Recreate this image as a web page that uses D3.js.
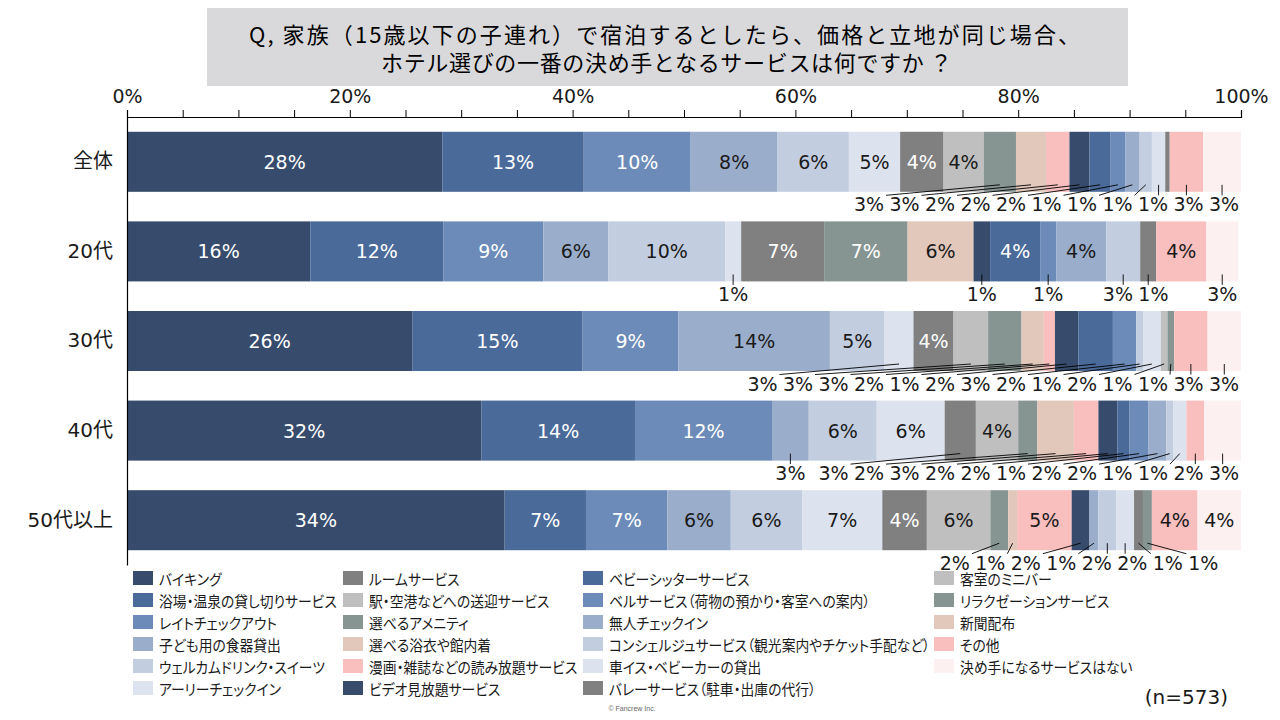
<!DOCTYPE html>
<html><head><meta charset="utf-8">
<script src="https://cdn.jsdelivr.net/npm/d3@7"></script>
<style>
body{margin:0;background:#fff;}
svg{display:block;}
.jp{font-family:"Noto Sans CJK JP","DejaVu Sans",sans-serif;font-feature-settings:"palt";}
.jpt{font-family:"Noto Sans CJK JP","DejaVu Sans",sans-serif;}
.num{font-family:"DejaVu Sans","Noto Sans CJK JP",sans-serif;}
</style></head><body>
<svg id="chart" width="1280" height="720"></svg>
<script>
// ---------- data ----------
const categories = ["全体", "20代", "30代", "40代", "50代以上"];
const services = [
  "バイキング", "浴場・温泉の貸し切りサービス", "レイトチェックアウト", "子ども用の食器貸出",
  "ウェルカムドリンク・スイーツ", "アーリーチェックイン", "ルームサービス", "駅・空港などへの送迎サービス",
  "選べるアメニティ", "選べる浴衣や館内着", "漫画・雑誌などの読み放題サービス", "ビデオ見放題サービス",
  "ベビーシッターサービス", "ベルサービス（荷物の預かり・客室への案内）", "無人チェックイン",
  "コンシェルジュサービス（観光案内やチケット手配など）", "車イス・ベビーカーの貸出",
  "バレーサービス（駐車・出庫の代行）", "客室のミニバー", "リラクゼーションサービス", "新聞配布",
  "その他", "決め手になるサービスはない"
];
// percentage per service, in the order of `services`
const valuesAll = [28.3, 12.7, 9.6, 7.8, 6.4, 4.6, 3.9, 3.6, 2.9, 2.7, 2.1, 1.8, 1.9, 1.3, 1.3, 1.1, 1.2, 0.4, 0, 0, 0, 3.0, 3.4];
const values20s = [16.45, 11.94, 8.98, 5.83, 10.49, 1.44, 7.45, 0, 7.49, 5.92, 0, 1.49, 4.49, 1.44, 4.49, 3.05, 0, 1.44, 0, 0, 0, 4.49, 2.87];
const values30s = [25.6, 15.3, 8.6, 13.6, 4.9, 2.6, 3.6, 3.1, 3.0, 2.0, 1.0, 2.1, 3.1, 2.1, 0, 0.6, 1.6, 0, 0.6, 0.6, 0, 3.0, 3.0];
const values40s = [31.8, 13.8, 12.3, 3.3, 6.1, 6.1, 2.8, 3.8, 1.7, 3.3, 2.2, 1.7, 1.1, 1.7, 1.6, 0.6, 1.2, 0, 0, 0, 0, 1.6, 3.3];
const values50s = [33.9, 7.3, 7.3, 5.7, 6.4, 7.2, 4.0, 5.7, 1.6, 0.8, 4.9, 1.6, 0, 0, 0.8, 1.6, 1.6, 0.8, 0, 0.8, 0, 4.1, 3.9];
const axisTicks = [0, 20, 40, 60, 80, 100];
const titleLines = ["Q, 家族（15歳以下の子連れ）で宿泊するとしたら、価格と立地が同じ場合、",
                    "ホテル選びの一番の決め手となるサービスは何ですか ？"];
const sampleNote = "(n=573)";
const credit = "© Fancrew Inc.";

// ---------- styles ----------
const base = ["#374C6D","#4A6A9A","#6C8BB8","#9AAECC","#C2CDE0","#DDE3EE","#808080","#BFBFBF","#869592","#E2C8BB","#F9BEBE"];
const palette = base.concat(base.slice(0, 6), base.slice(6, 11), ["#FDF0F0"]);
const whiteText = new Set([0,1,2,6,8,11,12,13,17,19]);

const rows = [valuesAll, values20s, values30s, values40s, values50s]
  .map((v, i) => ({cat: categories[i], values: v}));

const svg = d3.select("#chart");
const x = d3.scaleLinear().domain([0, 100]).range([127, 1241]);
const y = d3.scaleBand().domain(categories).range([117, 565]).paddingInner(0.33).paddingOuter(0.165);

// title
svg.append("rect").attr("x", 207).attr("y", 8).attr("width", 921).attr("height", 78).attr("fill", "#D9D9DB");
const titleGeom = [{cx: 664.5, len: 831}, {cx: 666.5, len: 571}];
svg.append("g").selectAll("text").data(titleLines).join("text")
  .attr("class", "jpt").attr("x", (d, i) => titleGeom[i].cx).attr("y", (d, i) => 33 + i * 28)
  .attr("text-anchor", "middle").attr("dominant-baseline", "central")
  .attr("textLength", (d, i) => titleGeom[i].len).attr("lengthAdjust", "spacing")
  .attr("font-size", 22).attr("fill", "#000").text(d => d);

// stacked bars
const stack = d3.stack().keys(d3.range(services.length)).value((r, k) => r.values[k]);
const series = stack(rows);
const barG = svg.append("g");
series.forEach((s, k) => {
  barG.append("g").attr("fill", palette[k]).selectAll("rect").data(s).join("rect")
    .attr("x", d => x(d[0])).attr("y", d => y(d.data.cat))
    .attr("width", d => Math.max(0, x(d[1]) - x(d[0]))).attr("height", y.bandwidth());
});

// axes
const xAxis = svg.append("g").attr("transform", `translate(0,117)`)
  .call(d3.axisTop(x).tickValues(d3.range(0, 101, 5)).tickSize(7).tickPadding(7)
    .tickFormat(d => axisTicks.includes(d) ? d + "%" : ""));
xAxis.select(".domain").attr("stroke", "#000").attr("stroke-width", 1.2);
xAxis.selectAll(".tick line").attr("stroke", "#000");
xAxis.selectAll("text").attr("class", "num").attr("font-size", 19).attr("fill", "#1a1a1a");

const yAxis = svg.append("g").attr("transform", `translate(127,0)`)
  .call(d3.axisLeft(y).tickSize(0).tickPadding(14));
yAxis.select(".domain").attr("stroke", "#000").attr("stroke-width", 1.2);
yAxis.selectAll("text").attr("class", "num").attr("font-size", 20).attr("fill", "#1a1a1a");

// data labels
const fmt = v => Math.round(v) + "%";
const labG = svg.append("g").attr("class", "num").attr("font-size", 19);
const sp = 35.5, minX = x(0) + 15, maxX = x(100) - 17;
rows.forEach((r, ri) => {
  const y0 = y(r.cat), bh = y.bandwidth(), yb = y0 + bh;
  const outside = [];
  series.forEach((s, k) => {
    const d = s[ri], v = d[1] - d[0], rv = Math.round(v);
    const cx = x((d[0] + d[1]) / 2);
    if (rv >= 4) {
      labG.append("text").attr("x", cx).attr("y", y0 + bh / 2).attr("text-anchor", "middle")
        .attr("dominant-baseline", "central").attr("fill", whiteText.has(k) ? "#fff" : "#1a1a1a").text(fmt(v));
    } else if (rv >= 1) {
      outside.push({d: cx, v});
    }
  });
  // cluster placement
  let clusters = outside.map(it => ({items: [it], center: it.d}));
  const ext = c => ({first: c.center - (c.items.length - 1) / 2 * sp, last: c.center + (c.items.length - 1) / 2 * sp});
  let changed = true;
  while (changed) {
    changed = false;
    clusters.forEach(c => {
      const e = ext(c);
      if (e.last > maxX) c.center -= e.last - maxX;
      const e2 = ext(c);
      if (e2.first < minX) c.center += minX - e2.first;
    });
    for (let i = 0; i < clusters.length - 1; i++) {
      const a = clusters[i], b = clusters[i + 1];
      if (ext(a).last + sp > ext(b).first + 0.01) {
        const items = a.items.concat(b.items);
        clusters.splice(i, 2, {items, center: d3.mean(items, it => it.d) - Math.max(0, items.length - 2) * 1.5});
        changed = true; break;
      }
    }
  }
  clusters.forEach(c => c.items.forEach((it, i) => it.x = c.center + (i - (c.items.length - 1) / 2) * sp));
  outside.forEach(it => {
    const half = 17;
    const ex = Math.max(it.x - half, Math.min(it.x + half, it.d));
    labG.append("line").attr("x1", it.d).attr("y1", yb - 7).attr("x2", ex).attr("y2", yb + 3.5)
      .attr("stroke", "#000").attr("stroke-width", 0.9);
    labG.append("text").attr("x", it.x).attr("y", yb + 12.5).attr("text-anchor", "middle")
      .attr("dominant-baseline", "central").attr("fill", "#1a1a1a").text(fmt(it.v));
  });
});

// legend (column-major, 6 rows)
const colX = [133, 343, 583, 934];
const legend = svg.append("g");
services.forEach((name, i) => {
  const c = Math.floor(i / 6), r = i % 6;
  const lx = colX[c], ly = 578 + r * 22;
  legend.append("rect").attr("x", lx).attr("y", ly - 7).attr("width", 20).attr("height", 14).attr("fill", palette[i]);
  legend.append("text").attr("class", "jp")
    .attr("transform", `translate(${lx + 26},${ly}) scale(0.92,1)`)
    .attr("dominant-baseline", "central").attr("font-size", 15).attr("fill", "#1a1a1a").text(name);
});

svg.append("text").attr("class", "num").attr("x", 1228).attr("y", 697).attr("text-anchor", "end")
  .attr("dominant-baseline", "central").attr("font-size", 20).attr("fill", "#1a1a1a").text(sampleNote);
svg.append("text").attr("x", 632).attr("y", 708).attr("text-anchor", "middle")
  .attr("font-family", "Liberation Sans, Arial, sans-serif")
  .attr("dominant-baseline", "central").attr("font-size", 7).attr("fill", "#666").text(credit);
</script>
</body></html>
